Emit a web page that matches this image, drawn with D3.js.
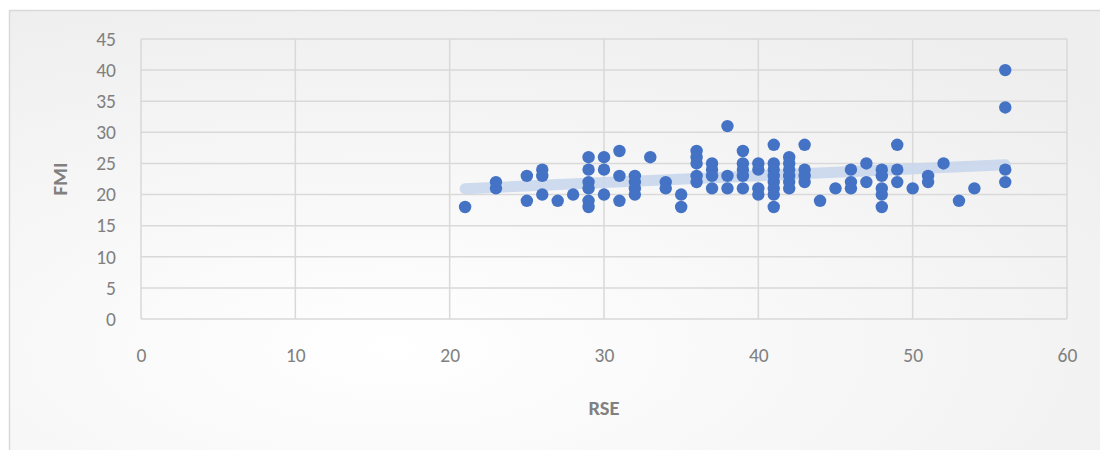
<!DOCTYPE html>
<html><head><meta charset="utf-8">
<script src="https://cdn.jsdelivr.net/npm/d3@7/dist/d3.min.js"></script>
<style>html,body{margin:0;padding:0;background:#fff;}svg{display:block;}</style>
</head><body>
<script>
const rseValues = [21,23,23,25,25,26,26,26,27,28,29,29,29,29,29,29,30,30,30,31,31,31,32,32,32,32,33,34,34,35,35,36,36,36,36,36,37,37,37,37,38,38,38,39,39,39,39,39,40,40,40,40,41,41,41,41,41,41,41,41,42,42,42,42,42,42,43,43,43,43,44,45,46,46,46,47,47,48,48,48,48,48,49,49,49,50,51,51,52,53,54,56,56,56,56];
const fmiValues = [18,22,21,23,19,24,23,20,19,20,26,24,22,21,19,18,26,24,20,27,23,19,23,22,21,20,26,22,21,20,18,27,26,25,23,22,25,24,23,21,31,23,21,27,25,24,23,21,25,24,21,20,28,25,24,23,22,21,20,18,26,25,24,23,22,21,28,24,23,22,19,21,24,22,21,25,22,24,23,21,20,18,28,24,22,21,23,22,25,19,21,40,34,24,22];
const xTicks = [0,10,20,30,40,50,60];
const yTicks = [0,5,10,15,20,25,30,35,40,45];
const xTitle = "RSE", yTitle = "FMI";

const W = 1100, H = 450;
const svg = d3.select("body").append("svg").attr("width", W).attr("height", H);
const defs = svg.append("defs");
const grad = defs.append("radialGradient").attr("id","bg").attr("cx","0.35").attr("cy","0.75").attr("r","0.85");
grad.append("stop").attr("offset","0").attr("stop-color","#ffffff");
grad.append("stop").attr("offset","1").attr("stop-color","#eeeeee");
svg.append("rect").attr("x",9.5).attr("y",10.5).attr("width",W).attr("height",H).attr("fill","url(#bg)").attr("stroke","#d9d9d9").attr("stroke-width",1.5);

const L = 141, R = 1067, T = 39, B = 319;
const x = d3.scaleLinear().domain([0,60]).range([L,R]);
const y = d3.scaleLinear().domain([0,45]).range([B,T]);
const font = "Carlito, Lato, 'Open Sans', sans-serif";

const g = svg.append("g");
g.selectAll(".gx").data(xTicks).join("line").attr("x1",d=>x(d)).attr("x2",d=>x(d)).attr("y1",T).attr("y2",B).attr("stroke","#d9d9d9").attr("stroke-width",1.5);
g.selectAll(".gy").data(yTicks).join("line").attr("y1",d=>y(d)).attr("y2",d=>y(d)).attr("x1",L).attr("x2",R).attr("stroke","#d9d9d9").attr("stroke-width",1.5);

const xAxis = svg.append("g").attr("transform",`translate(0,${B})`).call(d3.axisBottom(x).tickValues(xTicks).tickSize(0).tickPadding(29));
xAxis.select(".domain").remove();
xAxis.selectAll("text").attr("fill","#808080").style("font-size","19.5px").style("font-family",font);
const yAxis = svg.append("g").attr("transform",`translate(${L},0)`).call(d3.axisLeft(y).tickValues(yTicks).tickSize(0).tickPadding(25));
yAxis.select(".domain").remove();
yAxis.selectAll("text").attr("fill","#808080").style("font-size","19.5px").style("font-family",font);

// trendline (least squares)
const n = rseValues.length;
const mx = d3.mean(rseValues), my = d3.mean(fmiValues);
let sxy=0, sxx=0;
for (let i=0;i<n;i++){ sxy += (rseValues[i]-mx)*(fmiValues[i]-my); sxx += (rseValues[i]-mx)**2; }
const slope = sxy/sxx, icpt = my - slope*mx;
const x0 = d3.min(rseValues), x1 = d3.max(rseValues);
svg.append("line").attr("x1",x(x0)).attr("x2",x(x1)).attr("y1",y(icpt+slope*x0)).attr("y2",y(icpt+slope*x1))
  .attr("stroke","#c9d6ec").attr("stroke-opacity",0.9).attr("stroke-width",11).attr("stroke-linecap","round");

svg.append("g").selectAll("circle").data(rseValues.map((v,i)=>[v,fmiValues[i]])).join("circle")
  .attr("cx",d=>x(d[0])).attr("cy",d=>y(d[1])).attr("r",6.2).attr("fill","#4472c4");

svg.append("text").attr("x",(L+R)/2).attr("y",415).attr("text-anchor","middle").attr("fill","#808080")
  .style("font-size","20.5px").style("font-weight","bold").style("font-family",font).text(xTitle);
svg.append("text").attr("transform",`translate(67,${(T+B)/2}) rotate(-90)`).attr("text-anchor","middle").attr("fill","#808080")
  .style("font-size","20.5px").style("font-weight","bold").style("font-family",font).text(yTitle);
</script>
</body></html>
